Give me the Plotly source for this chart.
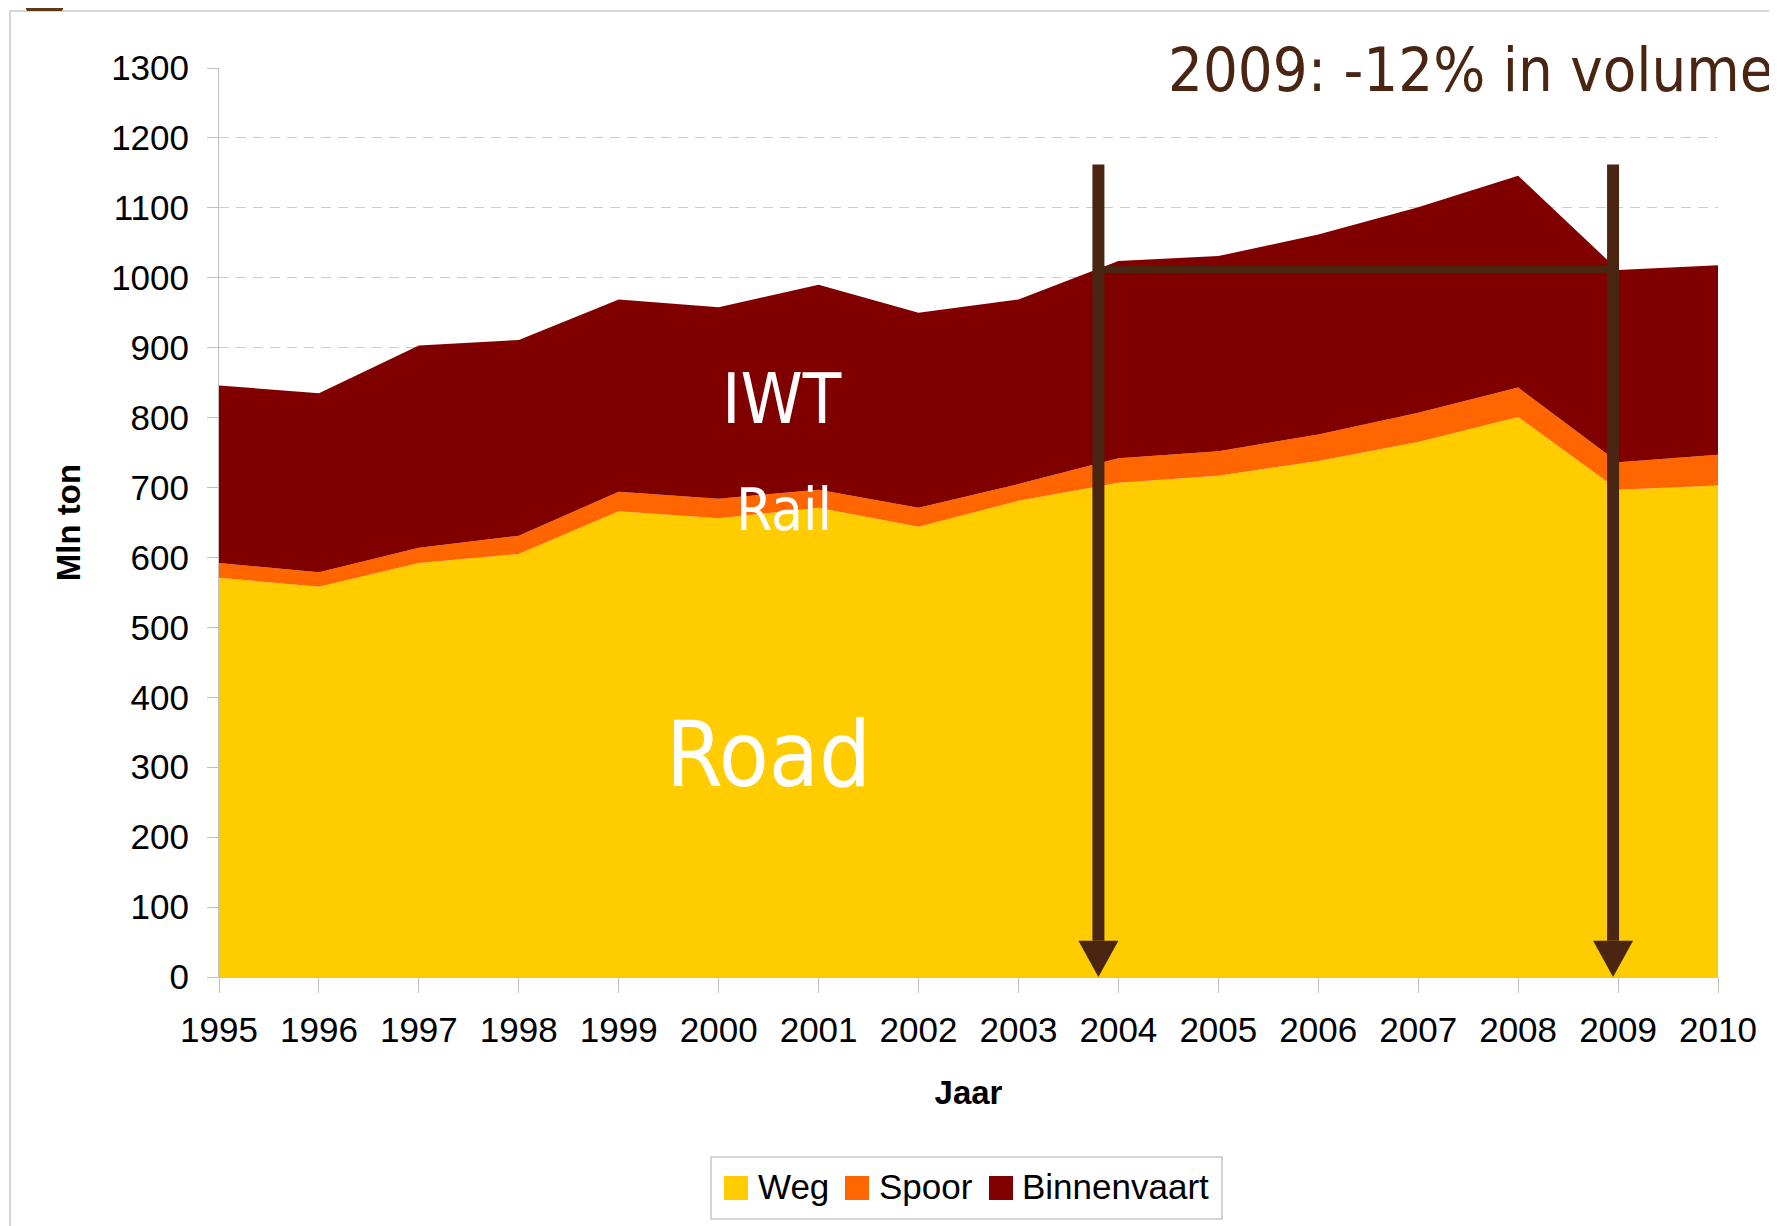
import plotly.graph_objects as go

# ---- data (Mln ton) ----
years = [1995, 1996, 1997, 1998, 1999, 2000, 2001, 2002, 2003, 2004, 2005, 2006, 2007, 2008, 2009, 2010]
weg = [571, 558, 592, 605, 666, 656, 671, 644, 681, 707, 717, 738, 765, 801, 697, 703]
spoor = [21, 21, 22, 26, 28, 28, 26, 27, 24, 35, 35, 38, 42, 42, 39, 44]
binnenvaart = [254, 256, 289, 280, 275, 274, 293, 279, 264, 282, 279, 286, 294, 303, 275, 271]

series_names = ["Weg", "Spoor", "Binnenvaart"]
series_colors = ["#FFCC00", "#FF6600", "#800000"]
y_ticks = list(range(0, 1301, 100))

# annotation elements
arrow_years = [2003.8, 2008.95]
arrow_top = 1162
arrow_head_h = 52
arrow_head_halfw = 0.2
hline_value = 1012
arrow_color = "#4A2511"

OFF = 8  # page body margin
W, H = 1777 - OFF, 1226 - OFF
# plot area in page pixels
PL, PR, PT, PB = 219, 1718, 68, 977
L, R, T, B = PL - OFF, PR - OFF, PT - OFF, PB - OFF


def px(x):
    """page x pixel -> paper fraction"""
    return (x - OFF - L) / (R - L)


def py(y):
    """page y pixel -> paper fraction"""
    return (B - (y - OFF)) / (B - T)


fig = go.Figure()
for name, vals, col in zip(series_names, [weg, spoor, binnenvaart], series_colors):
    fig.add_trace(go.Scatter(
        x=years, y=vals, name=name, stackgroup="one", mode="none",
        fillcolor=col, showlegend=False, hoverinfo="x+y+name"))

shapes = []
# outer frame
shapes.append(dict(type="rect", xref="paper", yref="paper",
                   x0=px(10), x1=px(1820), y0=py(1270), y1=py(11),
                   line=dict(color="#c8c8c8", width=1.5), layer="below"))
# brown corner tab
shapes.append(dict(type="path", xref="paper", yref="paper",
                   path=f"M{px(21)},{py(-2)} L{px(68)},{py(-2)} L{px(62)},{py(11)} L{px(27)},{py(11)} Z",
                   fillcolor="#5b3a16", line=dict(width=0)))
for ax_year in arrow_years:
    shapes.append(dict(type="line", xref="x", yref="y", x0=ax_year, x1=ax_year,
                       y0=arrow_top, y1=arrow_head_h,
                       line=dict(color=arrow_color, width=12)))
    shapes.append(dict(type="path", xref="x", yref="y",
                       path=f"M{ax_year - arrow_head_halfw},{arrow_head_h} L{ax_year + arrow_head_halfw},{arrow_head_h} L{ax_year},0 Z",
                       fillcolor=arrow_color, line=dict(width=0)))
shapes.append(dict(type="line", xref="x", yref="y", x0=arrow_years[0], x1=arrow_years[1],
                   y0=hline_value, y1=hline_value,
                   line=dict(color=arrow_color, width=7)))

afont = "Arial, 'Liberation Sans', sans-serif"
tfont = "Tahoma, 'DejaVu Sans Condensed', 'DejaVu Sans', sans-serif"

annotations = [
    dict(text="2009: -12% in volume", xref="paper", yref="paper", x=px(1166), y=py(70),
         xanchor="left", yanchor="middle", showarrow=False,
         font=dict(family=tfont, size=61, color=arrow_color)),
    dict(text="IWT", xref="x", yref="y", x=2000.63, y=827, showarrow=False,
         font=dict(family=tfont, size=70, color="white")),
    dict(text="Rail", xref="x", yref="y", x=2000.65, y=668, showarrow=False,
         font=dict(family=tfont, size=58, color="white")),
    dict(text="Road", xref="x", yref="y", x=2000.5, y=318, showarrow=False,
         font=dict(family=tfont, size=91, color="white")),
]

# custom legend (box, square swatches, labels)
shapes.append(dict(type="rect", xref="paper", yref="paper",
                   x0=px(711), x1=px(1222), y0=py(1219), y1=py(1157),
                   line=dict(color="#c8c8c8", width=1.5), fillcolor="white"))
legend_sq_x = [724, 845, 989]
legend_txt_x = [756, 877, 1020]
for name, col, sx, tx in zip(series_names, series_colors, legend_sq_x, legend_txt_x):
    shapes.append(dict(type="rect", xref="paper", yref="paper",
                       x0=px(sx), x1=px(sx + 24), y0=py(1200), y1=py(1176),
                       fillcolor=col, line=dict(width=0)))
    annotations.append(dict(text=name, xref="paper", yref="paper", x=px(tx), y=py(1186),
                            xanchor="left", yanchor="middle", showarrow=False,
                            font=dict(family=afont, size=35, color="black")))

fig.update_layout(
    width=W, height=H, autosize=False,
    margin=dict(l=L, r=W - R, t=T, b=H - B, pad=0),
    paper_bgcolor="white", plot_bgcolor="white",
    font=dict(family=afont, color="black"),
    shapes=shapes, annotations=annotations,
    showlegend=False,
    xaxis=dict(range=[years[0], years[-1]], tickvals=years, ticktext=[str(y) for y in years],
               showgrid=False, zeroline=False, showline=True, linecolor="#c0c0c0", linewidth=1,
               ticks="outside", ticklen=15, tickcolor="#c0c0c0",
               tickfont=dict(family=afont, size=35), ticklabelstandoff=7,
               title=dict(text="<b>Jaar</b>", font=dict(family=afont, size=33), standoff=32)),
    yaxis=dict(range=[0, 1300], tickvals=y_ticks,
               showgrid=True, gridcolor="#cccccc", griddash="10px,7px", gridwidth=1,
               zeroline=False, showline=True, linecolor="#c0c0c0", linewidth=1,
               ticks="outside", ticklen=11, tickcolor="#c0c0c0",
               tickfont=dict(family=afont, size=35), ticklabelstandoff=11,
               title=dict(text="<b>Mln ton</b>", font=dict(family=afont, size=33), standoff=20)),
)

fig.write_html("out.html")
